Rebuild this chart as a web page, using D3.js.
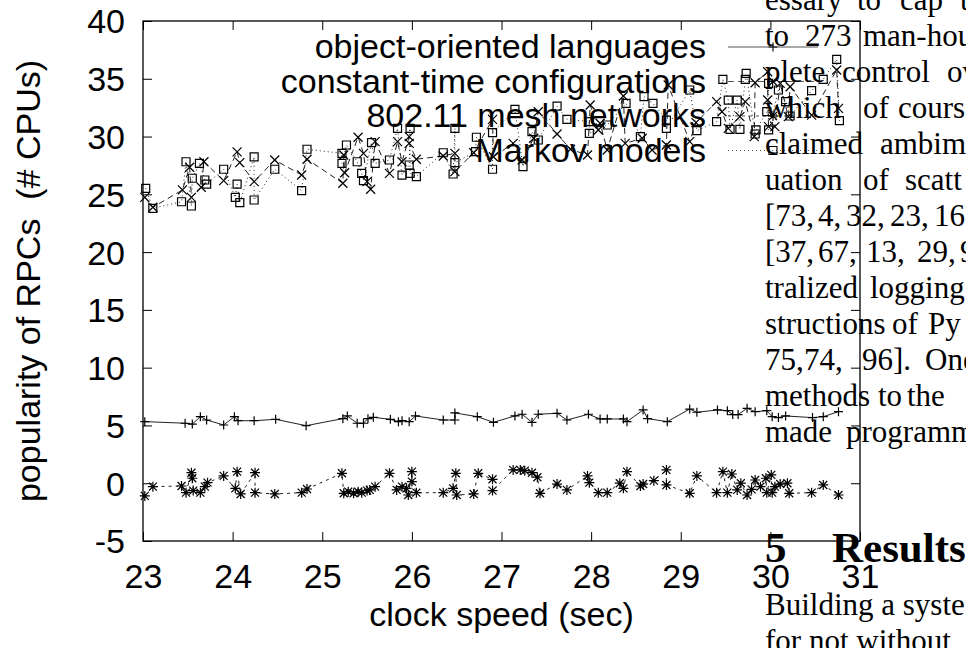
<!DOCTYPE html>
<html>
<head>
<meta charset="utf-8">
<script src="https://cdn.jsdelivr.net/npm/d3@7"></script>
<style>
  body { margin: 0; background: #fff; }
  svg { display: block; }
</style>
</head>
<body>
<div id="chart"></div>
<script>
// tick values
var xTicks = [23, 24, 25, 26, 27, 28, 29, 30, 31];
var yTicks = [-5, 0, 5, 10, 15, 20, 25, 30, 35, 40];

var seriesNames = ["object-oriented languages", "constant-time configurations",
  "802.11 mesh networks", "Markov models"];

// object-oriented languages (+, solid)
var ooX = [23.02, 23.47, 23.55, 23.64, 23.71, 23.90, 24.02, 24.06, 24.24, 24.48, 24.82, 25.23, 25.28,
  25.39, 25.46, 25.51, 25.57, 25.76, 25.85, 25.89, 25.97, 26.04, 26.35, 26.48, 26.48, 26.73, 26.91,
  27.15, 27.23, 27.34, 27.41, 27.62, 27.73, 27.97, 28.10, 28.18, 28.36, 28.40, 28.58, 28.63, 28.85,
  29.10, 29.18, 29.41, 29.52, 29.58, 29.64, 29.74, 29.83, 29.96, 30.02, 30.09, 30.17, 30.47, 30.59, 30.76];
var ooY = [5.33, 5.19, 5.12, 5.76, 5.47, 5.04, 5.76, 5.41, 5.41, 5.53, 4.98, 5.59, 5.82,
  5.19, 5.19, 5.59, 5.70, 5.53, 5.33, 5.41, 5.33, 5.82, 5.47, 5.47, 6.08, 5.76, 5.27,
  5.82, 5.97, 5.27, 5.97, 6.05, 5.47, 5.97, 5.56, 5.56, 5.56, 5.33, 6.34, 5.59, 5.33,
  6.42, 6.14, 6.34, 6.28, 5.94, 5.94, 6.48, 6.19, 6.28, 5.76, 5.68, 5.82, 5.68, 5.76, 6.19];

// constant-time configurations (x, dashed)
var ctX = [23.02, 23.11, 23.44, 23.52, 23.54, 23.65, 23.68, 23.90, 24.05, 24.08, 24.24, 24.47, 24.77,
  24.83, 25.23, 25.24, 25.25, 25.40, 25.46, 25.50, 25.54, 25.59, 25.75, 25.84, 25.89, 25.97, 25.97,
  26.05, 26.35, 26.48, 26.48, 26.69, 26.90, 26.91, 27.13, 27.23, 27.36, 27.41, 27.62, 27.77, 27.96,
  27.99, 28.08, 28.10, 28.18, 28.36, 28.38, 28.57, 28.68, 28.84, 28.86, 29.10, 29.17, 29.40, 29.46,
  29.53, 29.66, 29.72, 29.82, 29.83, 29.97, 29.97, 29.98, 30.05, 30.11, 30.20, 30.22, 30.46, 30.74, 30.76];
var ctY = [24.74, 23.88, 25.38, 27.34, 24.74, 25.61, 27.82, 26.18, 28.68, 27.74, 26.10, 27.97, 26.67,
  28.04, 25.96, 28.40, 26.87, 29.94, 28.55, 26.10, 25.44, 29.56, 26.82, 29.56, 27.82, 29.99, 29.41,
  28.04, 28.32, 28.55, 26.96, 28.60, 31.49, 28.25, 29.41, 27.97, 29.85, 32.15, 30.22, 28.90, 28.40,
  32.73, 30.57, 31.15, 28.84, 33.51, 29.41, 29.85, 28.84, 29.27, 34.46, 29.56, 31.21, 33.02, 32.15,
  30.71, 31.72, 33.02, 29.99, 34.66, 35.61, 33.16, 30.86, 30.86, 34.60, 31.72, 34.31, 31.86, 35.76, 32.44];

// 802.11 mesh networks (*, short dashes)
var mnX = [23.02, 23.11, 23.43, 23.48, 23.54, 23.55, 23.56, 23.64, 23.69, 23.72, 23.90, 24.03, 24.05,
  24.09, 24.25, 24.25, 24.47, 24.77, 24.83, 25.22, 25.24, 25.29, 25.35, 25.40, 25.44, 25.50, 25.53,
  25.59, 25.75, 25.83, 25.89, 25.94, 25.96, 26.00, 26.00, 26.05, 26.35, 26.46, 26.49, 26.50, 26.69,
  26.74, 26.90, 26.90, 27.13, 27.21, 27.26, 27.34, 27.40, 27.43, 27.62, 27.73, 27.96, 27.98, 28.08,
  28.18, 28.32, 28.36, 28.40, 28.55, 28.58, 28.70, 28.84, 28.84, 29.10, 29.18, 29.40, 29.47, 29.52,
  29.57, 29.63, 29.67, 29.74, 29.79, 29.83, 29.89, 29.95, 29.96, 30.01, 30.02, 30.05, 30.11, 30.19,
  30.21, 30.46, 30.59, 30.76];
var mnY = [-1.10, -0.30, -0.24, -0.82, 0.91, 0.43, -0.64, -0.82, -0.30, 0.05, 0.63, -0.44, 1.00,
  -0.93, 0.91, -0.82, -0.93, -0.82, -0.50, 0.86, -0.87, -0.73, -0.87, -0.73, -0.82, -0.64, -0.58,
  -0.30, 0.86, -0.58, -0.30, -0.44, -1.02, 1.00, 0.14, -0.82, -0.82, -0.44, 0.86, -1.02, -0.93,
  0.86, 0.34, -0.64, 1.15, 1.15, 1.09, 0.91, 0.52, -0.87, -0.07, -0.58, 0.63, 0.05, -0.82,
  -0.82, 0.00, -0.44, 1.00, -0.24, -0.07, 0.22, 1.15, -0.15, -0.87, 0.63, -0.82, 1.00, -0.82,
  0.80, -0.58, 0.00, -1.02, -0.53, 0.28, -0.30, 0.43, -0.82, 0.72, -0.82, -0.30, -0.07, 0.00,
  -0.87, -0.82, -0.15, -1.02];

// Markov models (squares, dotted)
var mmX = [23.03, 23.11, 23.43, 23.48, 23.54, 23.55, 23.63, 23.69, 23.71, 23.90, 24.03, 24.05, 24.08,
  24.24, 24.24, 24.47, 24.77, 24.83, 25.22, 25.22, 25.27, 25.39, 25.44, 25.46, 25.55, 25.59, 25.75,
  25.84, 25.89, 25.97, 25.98, 25.98, 26.05, 26.35, 26.46, 26.48, 26.48, 26.71, 26.72, 26.90, 26.90,
  27.15, 27.24, 27.34, 27.41, 27.62, 27.73, 27.98, 27.98, 28.18, 28.39, 28.55, 28.59, 28.69, 28.84,
  28.84, 29.10, 29.18, 29.40, 29.47, 29.53, 29.55, 29.63, 29.66, 29.72, 29.73, 29.83, 29.84, 29.96,
  29.98, 29.98, 30.09, 30.17, 30.22, 30.46, 30.59, 30.74, 30.77];
var mmY = [25.52, 23.79, 24.36, 27.82, 23.99, 26.39, 27.68, 26.24, 25.89, 27.17, 24.74, 25.89, 24.28,
  28.25, 24.51, 27.17, 25.32, 28.90, 28.55, 27.68, 29.27, 27.82, 26.82, 26.18, 29.48, 27.68, 27.97,
  30.71, 26.67, 27.54, 30.71, 26.82, 26.53, 28.60, 26.76, 30.71, 27.74, 28.69, 29.94, 27.17, 30.34,
  32.36, 27.39, 30.42, 29.70, 32.64, 31.49, 31.29, 30.28, 31.00, 32.88, 29.99, 33.45, 32.88, 31.43,
  30.71, 34.03, 30.51, 31.29, 34.95, 33.16, 30.62, 33.16, 30.62, 34.95, 35.47, 30.22, 30.57, 32.15,
  34.60, 30.57, 34.03, 33.02, 31.78, 33.97, 34.95, 36.68, 31.37];

// text of the paper page that sits over the figure
var pageLines = [
  ["essary", "to", "cap", "t"],
  ["to", "273", "man-hou"],
  ["plete", "control", "ov"],
  ["which", "of", "course"],
  ["claimed", "ambim"],
  ["uation", "of", "scatt"],
  ["[73,", "4,", "32,", "23,", "16"],
  ["[37,", "67,", "13,", "29,", "9"],
  ["tralized", "logging"],
  ["structions", "of", "Py"],
  ["75,", "74,", "96].", "One"],
  ["methods", "to", "the"],
  ["made", "programm"]
];
var pageWordX = [
  [765, 857, 900, 960],
  [765, 805, 863],
  [765, 842, 947],
  [765, 863, 898],
  [765, 880],
  [765, 863, 905],
  [765, 818, 846, 890, 934],
  [765, 818, 866, 917, 960],
  [765, 870],
  [765, 892, 928],
  [765, 804, 862, 925],
  [765, 878, 907],
  [765, 846]
];

var svgWidth = 966;
var svgHeight = 648;
var plot = { left: 143, right: 860, top: 21, bottom: 541 };
var sans = "'Liberation Sans', Arial, sans-serif";
var serif = "'Liberation Serif', 'Times New Roman', serif";

var svg = d3.select("#chart")
  .append("svg")
  .attr("width", svgWidth)
  .attr("height", svgHeight);

var x = d3.scaleLinear().domain([23, 31]).range([plot.left, plot.right]);
var y = d3.scaleLinear().domain([-5, 40]).range([plot.bottom, plot.top]);

// axes, ticks pointing inward
function styleAxis(g) {
  g.select(".domain").remove();
  g.selectAll(".tick line").attr("stroke", "#000");
  g.selectAll("text").attr("font-family", sans).attr("font-size", 34).attr("fill", "#000");
}

// plain hyphen for negatives, like gnuplot
var plainFmt = d => String(d);

svg.append("g")
  .attr("transform", `translate(0, ${plot.bottom})`)
  .call(d3.axisBottom(x).tickValues(xTicks).tickSize(-9).tickPadding(23).tickFormat(plainFmt))
  .call(styleAxis);

svg.append("g")
  .attr("transform", `translate(0, ${plot.top})`)
  .call(d3.axisTop(x).tickValues(xTicks).tickSize(-9).tickFormat(""))
  .call(styleAxis);

svg.append("g")
  .attr("transform", `translate(${plot.left}, 0)`)
  .call(d3.axisLeft(y).tickValues(yTicks).tickSize(-9).tickPadding(18).tickFormat(plainFmt))
  .call(styleAxis)
  .selectAll("text").attr("dy", "0.35em");

svg.append("g")
  .attr("transform", `translate(${plot.right}, 0)`)
  .call(d3.axisRight(y).tickValues(yTicks).tickSize(-9).tickFormat(""))
  .call(styleAxis);

svg.append("rect")
  .attr("x", plot.left).attr("y", plot.top)
  .attr("width", plot.right - plot.left).attr("height", plot.bottom - plot.top)
  .attr("fill", "none").attr("stroke", "#000").attr("stroke-width", 1.3);

// axis titles
svg.append("text")
  .attr("x", (plot.left + plot.right) / 2).attr("y", 626)
  .attr("text-anchor", "middle")
  .attr("font-family", sans).attr("font-size", 34)
  .text("clock speed (sec)");

svg.append("text")
  .attr("transform", `translate(40, ${(plot.top + plot.bottom) / 2}) rotate(-90)`)
  .attr("text-anchor", "middle")
  .attr("font-family", sans).attr("font-size", 34)
  .style("white-space", "pre")
  .text("popularity of RPCs  (# CPUs)");

// markers
var markers = {
  plus: "M-4.5,0H4.5M0,-4.5V4.5",
  cross: "M-4.5,-4.5L4.5,4.5M-4.5,4.5L4.5,-4.5",
  star: "M-5,0H5M0,-5V5M-4,-4L4,4M-4,4L4,-4",
  square: "M-4,-4H4V4H-4Z"
};

var series = [
  { xs: ooX, ys: ooY, dash: null, mark: "plus" },
  { xs: ctX, ys: ctY, dash: "6,4", mark: "cross" },
  { xs: mnX, ys: mnY, dash: "3,4", mark: "star" },
  { xs: mmX, ys: mmY, dash: "1,3", mark: "square" }
];

var line = d3.line().x(d => x(d[0])).y(d => y(d[1]));

// legend
var keyTextX = 706, keyX1 = 728, keyX2 = 818;
series.forEach(function(s, i) {
  var ky = 47 + i * 34.5;
  svg.append("text")
    .attr("x", keyTextX).attr("y", ky + 11)
    .attr("text-anchor", "end")
    .attr("font-family", sans).attr("font-size", 34)
    .text(seriesNames[i]);
  svg.append("line")
    .attr("x1", keyX1).attr("x2", keyX2).attr("y1", ky).attr("y2", ky)
    .attr("stroke", "#555").attr("stroke-width", 1.2)
    .attr("stroke-dasharray", s.dash);
  svg.append("path")
    .attr("transform", `translate(${(keyX1 + keyX2) / 2}, ${ky})`)
    .attr("d", markers[s.mark])
    .attr("fill", "none").attr("stroke", "#000").attr("stroke-width", 1.1);
});

// data lines and points
series.forEach(function(s) {
  var pts = s.xs.map((v, i) => [v, s.ys[i]]);
  svg.append("path")
    .datum(pts)
    .attr("d", line)
    .attr("fill", "none")
    .attr("stroke", "#222")
    .attr("stroke-width", 1)
    .attr("stroke-dasharray", s.dash);
  svg.append("g").selectAll("path")
    .data(pts)
    .enter()
    .append("path")
    .attr("transform", d => `translate(${x(d[0])}, ${y(d[1])})`)
    .attr("d", markers[s.mark])
    .attr("fill", "none")
    .attr("stroke", "#000")
    .attr("stroke-width", 1.2);
});

// page text over the figure
var page = svg.append("g")
  .attr("font-family", serif).attr("font-size", 31).attr("fill", "#000");

pageLines.forEach(function(words, i) {
  words.forEach(function(w, j) {
    page.append("text")
      .attr("x", pageWordX[i][j]).attr("y", 10 + i * 36)
      .text(w);
  });
});

page.append("text")
  .attr("x", 765).attr("y", 562)
  .attr("font-weight", "bold").attr("font-size", 43)
  .text("5");
page.append("text")
  .attr("x", 832).attr("y", 562)
  .attr("font-weight", "bold").attr("font-size", 43)
  .text("Results");

page.append("text").attr("x", 765).attr("y", 615).text("Building a syste");
page.append("text").attr("x", 765).attr("y", 651).text("for not without");
</script>
</body>
</html>
